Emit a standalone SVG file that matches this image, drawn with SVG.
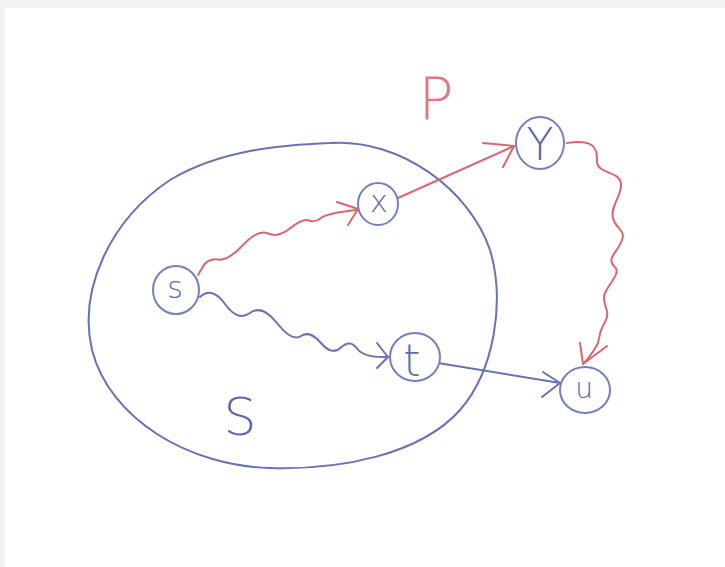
<svg xmlns="http://www.w3.org/2000/svg" width="725" height="567" viewBox="0 0 725 567">
<style>
.blue{fill:none;stroke:#6872b4;stroke-width:2;stroke-linecap:round;stroke-linejoin:round}
.red{fill:none;stroke:#dc6670;stroke-width:2;stroke-linecap:round;stroke-linejoin:round}
.node{fill:#ffffff;stroke:#7480bd;stroke-width:2}
.lbl{font-family:"DejaVu Sans","Liberation Sans",sans-serif;font-weight:200;fill:#5d68ad;text-anchor:middle}
</style>
<rect x="0" y="0" width="725" height="567" fill="#f2f2f2"/>
<rect x="5" y="8" width="720" height="559" fill="#ffffff"/>
<g id="set-S">
<path class="blue" d="M330,143 C400,138 470,190 490,250 C505,300 495,370 460,410 C420,455 340,470 270,468 C190,466 110,420 92,350 C78,290 110,220 170,180 C220,150 280,145 330,143 Z"/>
<text class="lbl" x="240" y="435" font-size="52">S</text>
</g>
<text id="label-P" x="436" y="119" font-size="58" font-family="DejaVu Sans,Liberation Sans,sans-serif" font-weight="200" fill="#e07882" text-anchor="middle">P</text>
<g id="connectors">
<path class="red" d="M198,275 L203,266.5 Q208,258 218,259.5 Q228,261 243,245 Q258,229 268,233.5 Q278,238 290.5,228 Q303,218 309,220.5 Q315,223 321,218 Q327,213 357,210"/>
<path class="red" d="M337,202 L358,209 L348,225"/>
<path class="red" d="M398,198 L514,146"/>
<path class="red" d="M483,143 L514,146 L503,167"/>
<path class="red" d="M567,143 C585,140 598,142 597,160 C596,175 620,170 621,184 C622,196 610,206 613,218 C615,228 626,230 622,240 C618,252 606,258 614,266 C622,272 610,282 605,293 C600,303 612,310 605,322 C598,333 600,340 597,345 C593,352 589,358 583,364"/>
<path class="red" d="M580,343 L583,364 L607,346"/>
<path class="blue" d="M200,297 Q212,286 225,304 Q238,322 250,313 Q262,304 277,323 Q292,342 301,336 Q310,330 321,343 Q332,356 341,347.5 Q350,339 357,348.5 Q364,358 388,357"/>
<path class="blue" d="M377,343 L388,357 L377,368"/>
<path class="blue" d="M438,363 L560,383"/>
<path class="blue" d="M543,372 L560,383 L542,397"/>
</g>
<g id="node-s"><ellipse class="node" cx="176" cy="290" rx="23" ry="24"/><text class="lbl" x="175" y="298" font-size="30">s</text></g>
<g id="node-x"><ellipse class="node" cx="378" cy="204" rx="20" ry="21"/><text class="lbl" x="379" y="212" font-size="30">x</text></g>
<g id="node-y"><ellipse class="node" cx="540" cy="143" rx="24" ry="26"/><text class="lbl" x="540" y="160" font-size="44">Y</text></g>
<g id="node-t"><ellipse class="node" cx="415" cy="357" rx="25" ry="24"/><text class="lbl" x="412" y="376" font-size="44">t</text></g>
<g id="node-u"><ellipse class="node" cx="585" cy="390" rx="25" ry="23"/><text class="lbl" x="584" y="398" font-size="28">u</text></g>
</svg>
